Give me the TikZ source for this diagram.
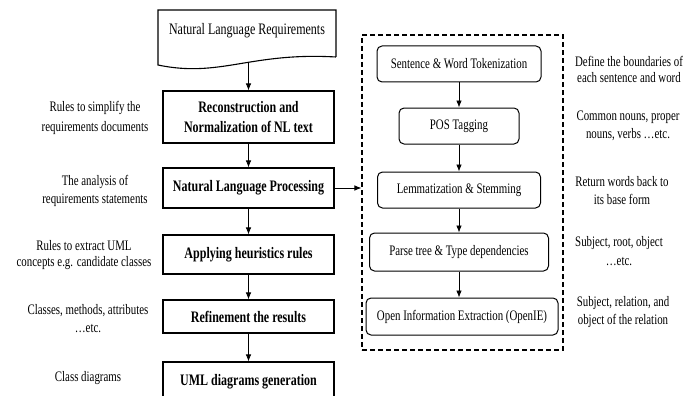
\documentclass[tikz,border=0pt]{standalone}
\usepackage{fontspec}
\setmainfont[FakeStretch=0.75]{Liberation Serif}
\usetikzlibrary{arrows.meta, positioning}
\tikzset{
  >={Latex[length=7pt,width=5.5pt]},  % punte piene
  % Riquadri del flusso principale
  mainbox/.style={draw,line width=1.1pt,font=\fontsize{16}{20}\selectfont\bfseries,align=center,minimum width=171pt,inner sep=2pt},
  % Passi NLP
  nlpbox/.style={draw,rounded corners=5pt,line width=1pt,font=\fontsize{14.5}{16}\selectfont,minimum height=36pt,inner sep=2pt},
  % Note laterali
  note/.style={font=\fontsize{14.5}{18}\selectfont,align=center,inner sep=0pt},
  dashbox/.style={draw,dash pattern=on 5pt off 3pt,line width=1.2pt},
  link/.style={->,line width=0.7pt}
}
\begin{document}
\begin{tikzpicture}[x=1pt,y=-1pt]
    \useasboundingbox (0,0) rectangle (699,396);
    \node[font=\fontsize{16}{18}\selectfont] (req) at (247,31) {Natural Language Requirements};
    \draw[line width=1.1pt] (336,57) -- (336,10) -- (158,10) -- (158,65) .. controls (220,78) and (250,52) .. (336,57);
    \coordinate (reqb) at (248.5,62);
    \node[mainbox,minimum height=52pt] (recon) at (248.5,117) {Reconstruction and\\Normalization of NL text};
    \node[mainbox,minimum height=40pt] (nlp) at (248.5,188) {Natural Language Processing};
    \node[mainbox,minimum height=39pt] (heur) at (248.5,254.5) {Applying heuristics rules};
    \node[mainbox,minimum height=33pt] (refine) at (248.5,316.5) {Refinement the results};
    \node[mainbox,minimum height=40pt] (uml) at (248.5,382) {UML diagrams generation};
    \draw[link] (reqb) -- (recon.north);
    \draw[link] (recon) -- (nlp);
    \draw[link] (nlp) -- (heur);
    \draw[link] (heur) -- (refine);
    \draw[link] (refine) -- (uml);

    \node[dashbox,minimum width=201pt,minimum height=315pt] (pipe) at (462.5,192.5) {};
    \node[nlpbox,minimum width=164pt] (tok) at (459,64) {Sentence \& Word Tokenization};
    \node[nlpbox,minimum width=120pt] (pos) at (459,126) {POS Tagging};
    \node[nlpbox,minimum width=163pt] (lem) at (459,190) {Lemmatization \& Stemming};
    \node[nlpbox,minimum width=179pt,minimum height=38pt] (parse) at (459,252) {Parse tree \& Type dependencies};
    \node[nlpbox,minimum width=192pt,minimum height=37pt] (oie) at (462,316.5) {Open Information Extraction (OpenIE)};
    \draw[link] (tok) -- (pos);
    \draw[link] (pos) -- (lem);
    \draw[link] (lem) -- (parse);
    \draw[link] (parse.south) -- (parse.south |- oie.north);
    \draw[link] (nlp.east) -- (nlp.east -| pipe.west);

    \node[note,font=\fontsize{14.5}{19.5}\selectfont] (n1) at (95,118) {Rules to simplify the\\requirements documents};
    \node[note] (n2) at (95,191) {The analysis of\\requirements statements};
    \node[note,font=\fontsize{14.5}{16}\selectfont] (n3) at (84,255) {Rules to extract UML\\concepts e.g. candidate classes};
    \node[note] (n4) at (88,319) {Classes, methods, attributes\\…etc.};
    \node[note] (n5) at (88,378) {Class diagrams};
    \node[note,font=\fontsize{14.5}{15.5}\selectfont] (d1) at (629,69.5) {Define the boundaries of\\each sentence and word};
    \node[note] (d2) at (628,126) {Common nouns, proper\\nouns, verbs …etc.};
    \node[note] (d3) at (622,191) {Return words back to\\its base form};
    \node[note,font=\fontsize{14.5}{19}\selectfont] (d4) at (619,251.5) {Subject, root, object\\…etc.};
    \node[note] (d5) at (623,312) {Subject, relation, and\\object of the relation};
\end{tikzpicture}
\end{document}
